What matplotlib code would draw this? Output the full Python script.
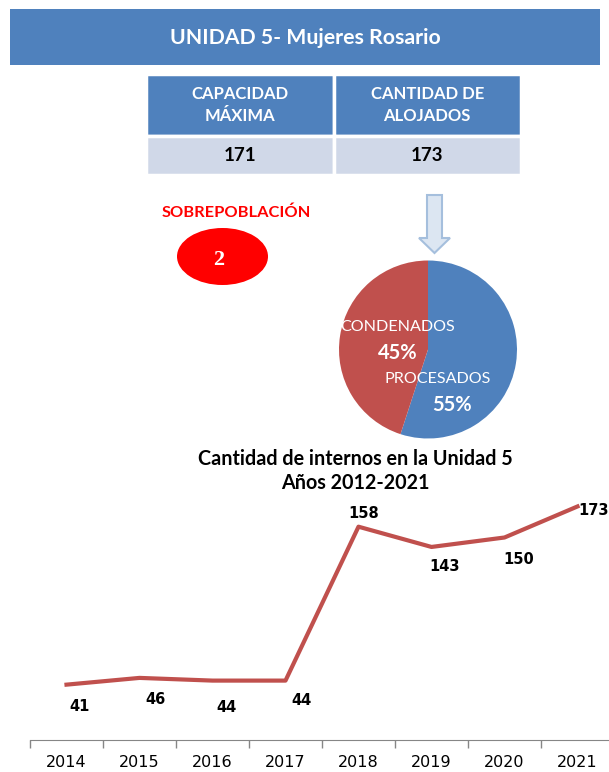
import numpy as np
import matplotlib
matplotlib.use('Agg')
import matplotlib.pyplot as plt
from matplotlib.patches import Rectangle, Ellipse, Polygon

# data
titulo = 'UNIDAD 5- Mujeres Rosario'
encabezados = ['CAPACIDAD\nMÁXIMA', 'CANTIDAD DE\nALOJADOS']
capacidad = 171
alojados = 173
sobrepoblacion = alojados - capacidad

pie_labels = ['PROCESADOS', 'CONDENADOS']
pie_values = [55, 45]

years = ['2014', '2015', '2016', '2017', '2018', '2019', '2020', '2021']
internos = [41, 46, 44, 44, 158, 143, 150, 173]

BLUE = '#4F81BD'
RED = '#C0504D'
W, H = 609, 772

fig = plt.figure(figsize=(W / 100, H / 100), dpi=100)

# overlay axes in pixel coordinates for the header part
ax0 = fig.add_axes([0, 0, 1, 1])
ax0.set_xlim(0, W)
ax0.set_ylim(H, 0)
ax0.axis('off')

# title bar
ax0.add_patch(Rectangle((10, 9), 590, 56, color=BLUE, lw=0))
ax0.text(305, 38, titulo, color='white', fontsize=15.3, fontweight='bold',
         family='Lato', ha='center', va='center')

# table
tb = ax0.table(cellText=[[str(capacidad), str(alojados)]], colLabels=encabezados,
               cellLoc='center',
               bbox=[146 / W, 1 - 175 / H, 375 / W, 101 / H])
tb.auto_set_font_size(False)
for (r, c), cell in tb.get_celld().items():
    cell.set_edgecolor('white')
    cell.set_linewidth(2.5)
    if r == 0:
        cell.set_height(60)
        cell.set_facecolor(BLUE)
        cell.get_text().set(color='white', fontsize=12, fontweight='bold',
                            family='Lato', linespacing=1.4)
    else:
        cell.set_height(38)
        cell.set_facecolor('#D0D8E8')
        cell.get_text().set(color='black', fontsize=13.5, fontweight='bold',
                            family='Lato')

# sobrepoblacion
ax0.text(236, 213, 'SOBREPOBLACIÓN', color='#FF0000', fontsize=11.8,
         fontweight='bold', family='Lato', ha='center', va='center')
ax0.add_patch(Ellipse((222.5, 256.5), 91, 57, color='#FF0000', lw=0))
ax0.text(219, 260, str(sobrepoblacion), color='white', fontsize=16,
         fontweight='bold', family='Liberation Serif', ha='center', va='center')

# arrow
ax0.add_patch(Polygon([(427, 195), (442, 195), (442, 238), (450, 238), (434.5, 253),
                       (419, 238), (427, 238)], closed=True,
                      facecolor='#DCE6F2', edgecolor='#A5BFDD', lw=1.5))

# pie
axp = fig.add_axes([339 / W, 1 - 438.5 / H, 178 / W, 178 / H])
axp.pie(pie_values, colors=[BLUE, RED], startangle=90, counterclock=False,
        wedgeprops=dict(linewidth=0))
axp.set_xlim(-1, 1)
axp.set_ylim(-1, 1)
axp.set_aspect('equal')
axp.text(-0.34, 0.25, pie_labels[1], color='white', fontsize=11.6, family='Lato',
         ha='center', va='center')
axp.text(-0.34, -0.04, f'{pie_values[1]}%', color='white', fontsize=14.5,
         fontweight='bold', family='Lato', ha='center', va='center')
axp.text(0.11, -0.33, pie_labels[0], color='white', fontsize=11.6, family='Lato',
         ha='center', va='center')
axp.text(0.27, -0.62, f'{pie_values[0]}%', color='white', fontsize=14.5,
         fontweight='bold', family='Lato', ha='center', va='center')

# line chart
fig.text(355 / W, 1 - 471 / H, 'Cantidad de internos en la Unidad 5\nAños 2012-2021',
         ha='center', va='center', fontsize=14.2, fontweight='bold', family='Lato',
         linespacing=1.2)

ax1 = fig.add_axes([30 / W, 32 / H, 584 / W, 243 / H])
x = np.arange(len(years))
ax1.plot(x, internos, color=RED, lw=3, solid_joinstyle='round', clip_on=False)
ax1.set_xlim(-0.5, len(years) - 0.5)
ax1.set_ylim(0, 180)
for s in ['left', 'top', 'right']:
    ax1.spines[s].set_visible(False)
ax1.spines['bottom'].set_color('#868686')
ax1.set_yticks([])
ax1.set_xticks(x, labels=years)
ax1.set_xticks(np.arange(-0.5, len(years), 1), minor=True)
ax1.tick_params(axis='x', which='major', length=0, pad=11, labelsize=11.5)
ax1.tick_params(axis='x', which='minor', length=6, color='#868686', width=1)
ax1.patch.set_alpha(0)

offsets = [(13.5, -21.5), (15.5, -22), (13.5, -26.5), (15.5, -19.5),
           (5.5, 13.4), (13.5, -20), (14.5, -22), (16.5, -4)]
for xi, v, (dx, dy) in zip(x, internos, offsets):
    ax1.annotate(str(v), (xi, v), xytext=(dx * 0.72, dy * 0.72),
                 textcoords='offset points', ha='center', va='center',
                 fontsize=10.5, fontweight='bold', annotation_clip=False)

fig.savefig('out.png', dpi=100)
